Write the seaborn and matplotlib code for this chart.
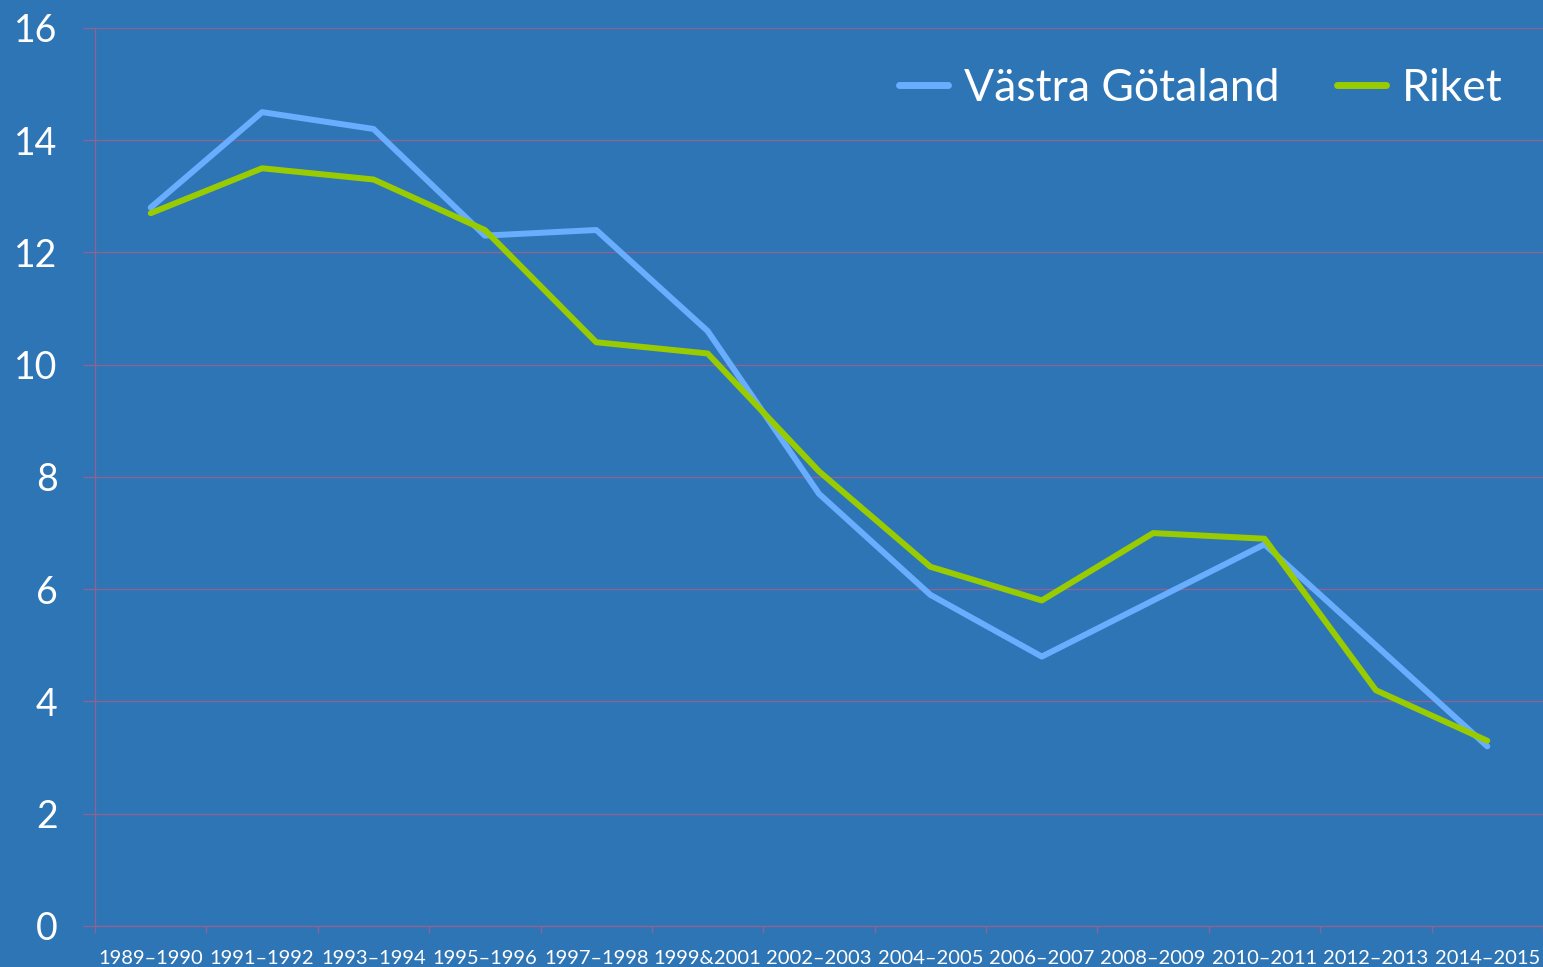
import pandas as pd
import matplotlib.pyplot as plt
import seaborn as sb
from matplotlib.ticker import FixedLocator

# Data
perioder = ['1989–1990', '1991–1992', '1993–1994', '1995–1996', '1997–1998',
            '1999&2001', '2002–2003', '2004–2005', '2006–2007', '2008–2009',
            '2010–2011', '2012–2013', '2014–2015']
vastra_gotaland = [12.8, 14.5, 14.2, 12.3, 12.4, 10.6, 7.7, 5.9, 4.8, 5.8, 6.8, 5.0, 3.2]
riket = [12.7, 13.5, 13.3, 12.4, 10.4, 10.2, 8.1, 6.4, 5.8, 7.0, 6.9, 4.2, 3.3]
y_ticks = [0, 2, 4, 6, 8, 10, 12, 14, 16]

bg = '#2e75b6'
grid_col = '#8a6494'

sb.set_style('white')
plt.rcParams['font.family'] = ['Lato', 'DejaVu Sans']

df = pd.DataFrame({
    'period': perioder * 2,
    'varde': vastra_gotaland + riket,
    'serie': ['Västra Götaland'] * len(perioder) + ['Riket'] * len(perioder),
})
df['x'] = list(range(len(perioder))) * 2

fig = plt.figure(figsize=(15.43, 9.67), dpi=100, facecolor=bg)
ax = fig.add_axes([0.0616, 0.0424, 0.9384, 0.9287])
ax.set_facecolor(bg)

sb.lineplot(data=df, x='x', y='varde', hue='serie',
            palette={'Västra Götaland': '#69adff', 'Riket': '#99cc00'},
            linewidth=4.3, ax=ax, legend=True, solid_capstyle='round',
            solid_joinstyle='round')

ax.set_xlim(-0.5, len(perioder) - 0.5)
ax.set_ylim(0, 16)
ax.set_yticks(y_ticks)
ax.set_yticklabels([str(t) for t in y_ticks], fontsize=27, color='white')
ax.set_xticks(range(len(perioder)))
ax.set_xticklabels(perioder, fontsize=14.5, color='white')
ax.xaxis.set_minor_locator(FixedLocator([i - 0.5 for i in range(len(perioder) + 1)]))
ax.tick_params(axis='x', which='major', length=0, pad=17, bottom=True)
ax.tick_params(axis='x', which='minor', length=5, color=grid_col, width=1, bottom=True)
ax.tick_params(axis='y', length=9, color=grid_col, width=1, pad=18, left=True)
ax.set_xlabel('')
ax.set_ylabel('')

ax.grid(axis='y', color=grid_col, linewidth=1)
for s in ['top', 'right']:
    ax.spines[s].set_visible(False)
for s in ['left', 'bottom']:
    ax.spines[s].set_color(grid_col)
    ax.spines[s].set_linewidth(1)

leg = ax.legend(loc='upper right', bbox_to_anchor=(1.0, 1.0), ncol=2, frameon=False,
                fontsize=32, handlelength=1.1, columnspacing=1.3, handletextpad=0.36)
for t in leg.get_texts():
    t.set_color('white')
for h in leg.get_lines():
    h.set_linewidth(5)

fig.savefig('out.png', dpi=100, facecolor=bg)
